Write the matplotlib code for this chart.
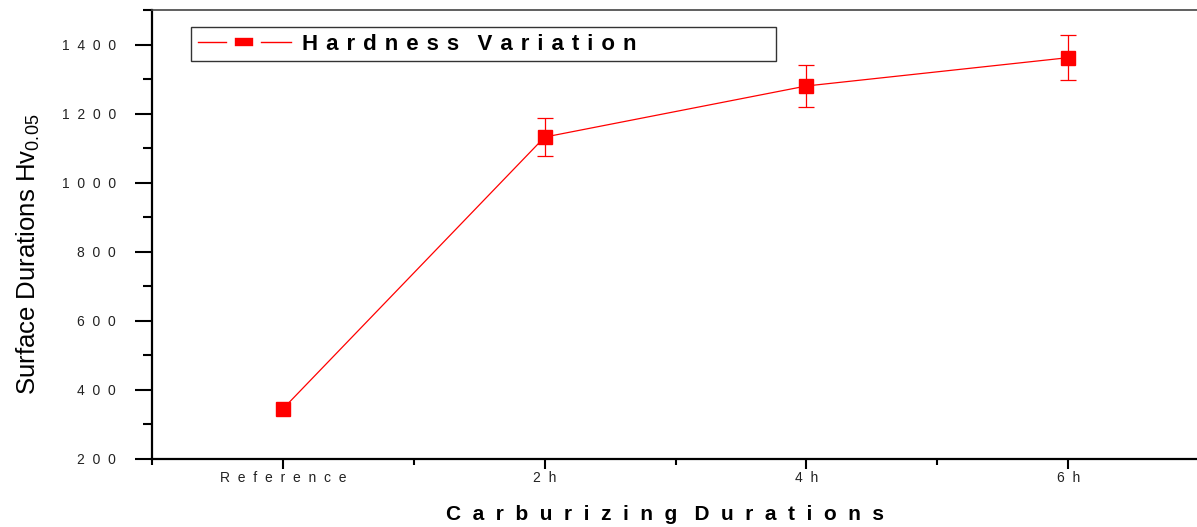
import matplotlib.pyplot as plt
from matplotlib.lines import Line2D
from matplotlib.path import Path
from matplotlib.ticker import MultipleLocator

# data
durations = ["Reference", "2h", "4h", "6h"]
hardness = [345, 1132, 1280, 1362]
hardness_err = [0, 55, 62, 66]
series_name = "Hardness Variation"

def spaced(s, gap="  ", word_gap="    "):
    # old Origin style letter spacing
    return word_gap.join(gap.join(w) for w in s.split(" "))

plt.rcParams['font.family'] = ['Liberation Sans', 'DejaVu Sans']
plt.rcParams['mathtext.default'] = 'regular'

red = '#ff0000'
fig = plt.figure(figsize=(11.97, 5.27), dpi=100)
ax = fig.add_axes([152/1197, 1 - 459/527, 1047/1197, 449/527])

x = list(range(len(durations)))
# error bars only where a spread was measured
ex = [i for i in x if hardness_err[i] > 0]
ax.errorbar(ex, [hardness[i] for i in ex], yerr=[hardness_err[i] for i in ex],
            fmt='none', ecolor=red, elinewidth=0.9, capsize=5.5, capthick=0.9)
ax.plot(x, hardness, color=red, lw=0.9, marker='s', ms=9.5, mec=red, mfc=red)

ax.set_xlim(-0.5, 3.5)
ax.set_ylim(200, 1500)
ax.set_xticks(x)
ax.set_xticklabels([spaced(d) for d in durations])
ax.xaxis.set_minor_locator(MultipleLocator(0.5))
ax.yaxis.set_minor_locator(MultipleLocator(100))
yt = list(range(200, 1401, 200))
ax.set_yticks(yt)
ax.set_yticklabels([spaced(str(v)) for v in yt])

ax.tick_params(axis='y', which='major', length=12, width=1.5, pad=14,
               labelsize=10, labelcolor='#222222')
ax.tick_params(axis='y', which='minor', length=6.5, width=1.5)
ax.tick_params(axis='x', which='major', length=7, width=1.5, pad=2,
               labelsize=10, labelcolor='#222222')
ax.tick_params(axis='x', which='minor', length=4, width=1.5)

for side in ['left', 'bottom']:
    ax.spines[side].set_linewidth(1.6)
ax.spines['top'].set_linewidth(1.2)
ax.spines['top'].set_color('#444444')
ax.spines['right'].set_visible(False)

ax.set_xlabel(spaced("Carburizing Durations", "  ", "   "), fontsize=15,
              fontweight='bold')
ax.xaxis.set_label_coords(0.4895, -0.103)
ax.set_ylabel(r'Surface Durations Hv$_{0.05}$', fontsize=18.5)
ax.yaxis.set_label_coords(-0.105, 0.455)

# legend handle: line, gap, flat red block, gap, line
rect = Path([(-19, -12), (19, -12), (19, 12), (-19, 12), (-19, -12)],
            [Path.MOVETO, Path.LINETO, Path.LINETO, Path.LINETO, Path.CLOSEPOLY])
handle = Line2D([], [], color=red, lw=1.0, marker=rect, ms=19,
                mfc=red, mec='white', mew=5.5)
leg = ax.legend([handle], [spaced(series_name, " \u200a", "   ")],
                loc='upper left', bbox_to_anchor=(0.0372, 0.895, 0.559, 0.067),
                mode='expand', fancybox=False, edgecolor='black',
                handlelength=4.2, handletextpad=0.5, borderpad=0.3,
                borderaxespad=0, prop={'weight': 'bold', 'size': 16})
leg.get_frame().set_linewidth(1.0)

plt.savefig("out.png", dpi=100)
